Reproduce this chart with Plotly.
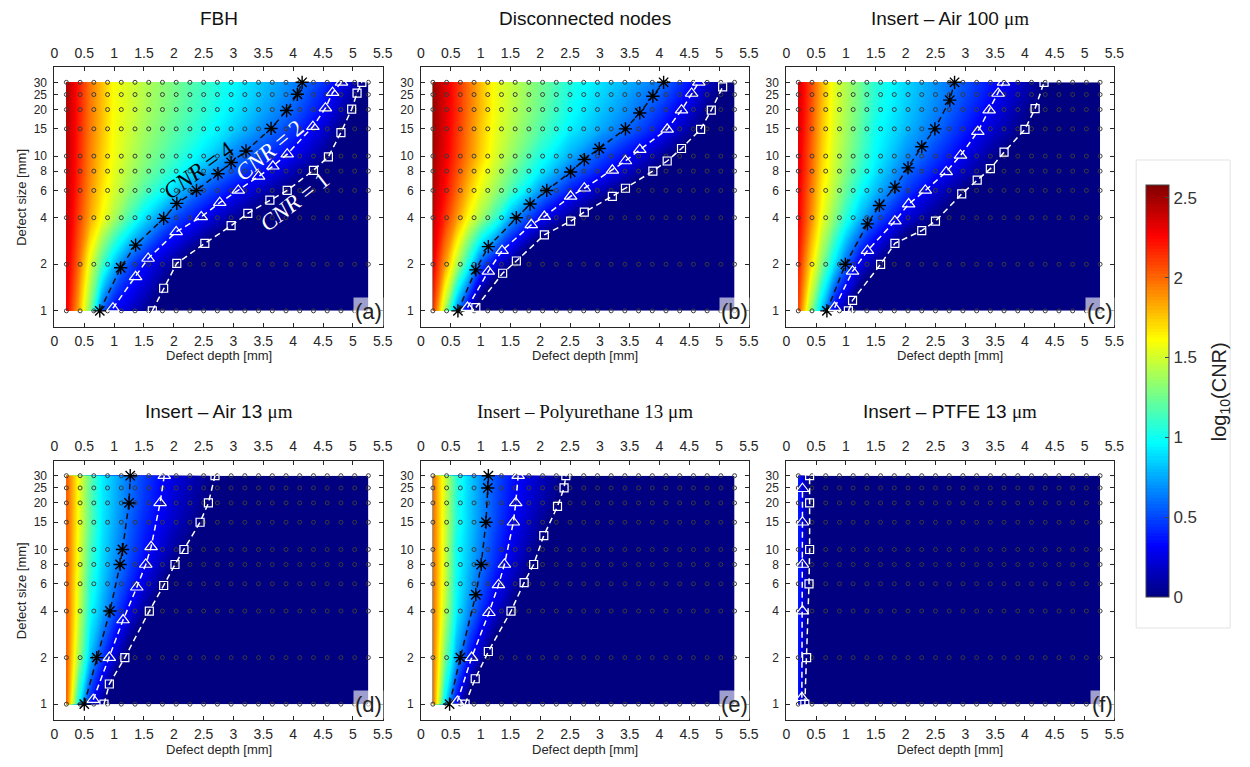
import math
import plotly.graph_objects as go

# ---------------- data ----------------
DEPTH_COLS = [0.2, 0.4, 0.6, 0.8, 1.0, 1.25, 1.5, 2.0, 2.5, 3.0, 3.5, 4.0, 4.5, 5.0, 5.26]
SIZE_ROWS = [1, 2, 4, 6, 8, 10, 15, 20, 25, 30]
DOT_DEPTHS = [0.2, 0.43, 0.66, 0.89, 1.12, 1.35, 1.58, 1.81, 2.04, 2.27, 2.5, 2.73,
              2.96, 3.19, 3.42, 3.65, 3.88, 4.11, 4.34, 4.57, 4.8, 5.03, 5.26]
X_TICKS = [0, 0.5, 1, 1.5, 2, 2.5, 3, 3.5, 4, 4.5, 5, 5.5]
X_TICKTEXT = ["0", "0.5", "1", "1.5", "2", "2.5", "3", "3.5", "4", "4.5", "5", "5.5"]
Y_TICKS = [1, 2, 4, 6, 8, 10, 15, 20, 25, 30]
CBAR_TICKS = [0, 0.5, 1, 1.5, 2, 2.5]

TITLES = ["FBH", "Disconnected nodes",
          "Insert \u2013 Air 100 <span style=\"font-family:Liberation Serif\">\u03bcm</span>",
          "Insert \u2013 Air 13 <span style=\"font-family:Liberation Serif\">\u03bcm</span>",
          "<span style=\"font-family:Liberation Serif\">Insert \u2013 Polyurethane 13 \u03bcm</span>",
          "Insert \u2013 PTFE 13 <span style=\"font-family:Liberation Serif\">\u03bcm</span>"]
LETTERS = ["(a)", "(b)", "(c)", "(d)", "(e)", "(f)"]

# log10(CNR) read per defect-size row (rows = SIZE_ROWS, cols = DEPTH_COLS)
Z_FBH = [
    [2.30, 1.85, 1.27, 0.57, 0.30, 0.19, 0.075, -0.15, -0.37, -0.5, -0.5, -0.5, -0.5, -0.5, -0.5],
    [2.35, 2.00, 1.54, 1.14, 0.81, 0.52, 0.34, 0.055, -0.22, -0.49, -0.5, -0.5, -0.5, -0.5, -0.5],
    [2.40, 2.11, 1.83, 1.60, 1.40, 1.15, 0.91, 0.53, 0.29, 0.08, -0.13, -0.34, -0.5, -0.5, -0.5],
    [2.42, 2.15, 1.89, 1.68, 1.51, 1.34, 1.18, 0.87, 0.56, 0.34, 0.15, -0.03, -0.21, -0.4, -0.5],
    [2.43, 2.17, 1.92, 1.72, 1.55, 1.41, 1.28, 1.05, 0.77, 0.53, 0.34, 0.14, -0.06, -0.26, -0.37],
    [2.44, 2.18, 1.93, 1.74, 1.58, 1.45, 1.33, 1.12, 0.90, 0.65, 0.46, 0.28, 0.06, -0.16, -0.27],
    [2.45, 2.19, 1.95, 1.77, 1.59, 1.49, 1.38, 1.20, 1.03, 0.85, 0.66, 0.46, 0.22, -0.10, -0.27],
    [2.46, 2.20, 1.96, 1.78, 1.60, 1.51, 1.41, 1.24, 1.08, 0.92, 0.75, 0.57, 0.34, 0.02, -0.16],
    [2.47, 2.20, 1.96, 1.78, 1.60, 1.51, 1.42, 1.26, 1.10, 0.95, 0.79, 0.63, 0.40, 0.09, -0.11],
    [2.48, 2.21, 1.97, 1.78, 1.60, 1.52, 1.43, 1.27, 1.12, 0.97, 0.81, 0.66, 0.46, 0.18, -0.06],
]
Z_DISC = [
    [2.15, 1.40, 0.67, 0.21, -0.21, -0.5, -0.5, -0.5, -0.5, -0.5, -0.5, -0.5, -0.5, -0.5, -0.5],
    [2.30, 1.88, 1.43, 1.00, 0.55, 0.26, 0.04, -0.39, -0.5, -0.5, -0.5, -0.5, -0.5, -0.5, -0.5],
    [2.40, 2.15, 1.88, 1.60, 1.38, 1.11, 0.76, 0.33, 0.055, -0.22, -0.49, -0.5, -0.5, -0.5, -0.5],
    [2.45, 2.24, 2.01, 1.77, 1.56, 1.36, 1.16, 0.71, 0.39, 0.16, -0.06, -0.27, -0.49, -0.5, -0.5],
    [2.47, 2.28, 2.07, 1.86, 1.65, 1.46, 1.28, 0.94, 0.61, 0.39, 0.17, -0.05, -0.27, -0.48, -0.5],
    [2.48, 2.31, 2.11, 1.92, 1.73, 1.52, 1.36, 1.04, 0.77, 0.52, 0.31, 0.09, -0.12, -0.34, -0.45],
    [2.50, 2.33, 2.14, 1.95, 1.76, 1.56, 1.43, 1.18, 0.94, 0.76, 0.57, 0.36, 0.10, -0.17, -0.31],
    [2.51, 2.34, 2.16, 1.97, 1.79, 1.58, 1.46, 1.23, 1.00, 0.83, 0.67, 0.47, 0.23, -0.08, -0.24],
    [2.52, 2.35, 2.16, 1.98, 1.79, 1.58, 1.47, 1.25, 1.03, 0.87, 0.72, 0.56, 0.31, 0.00, -0.17],
    [2.52, 2.35, 2.16, 1.98, 1.79, 1.58, 1.47, 1.26, 1.05, 0.90, 0.76, 0.62, 0.38, 0.07, -0.12],
]
Z_AIR100 = [
    [2.10, 1.38, 0.80, 0.29, 0.05, -0.25, -0.55, -0.6, -0.6, -0.6, -0.6, -0.6, -0.6, -0.6, -0.6],
    [2.20, 1.73, 1.30, 0.92, 0.58, 0.25, 0.06, -0.32, -0.5, -0.5, -0.5, -0.5, -0.5, -0.5, -0.5],
    [2.28, 1.94, 1.57, 1.32, 1.06, 0.78, 0.55, 0.24, 0.02, -0.20, -0.41, -0.5, -0.5, -0.5, -0.5],
    [2.30, 1.99, 1.65, 1.43, 1.22, 0.98, 0.80, 0.48, 0.22, 0.00, -0.22, -0.45, -0.5, -0.5, -0.5],
    [2.32, 2.03, 1.70, 1.48, 1.30, 1.09, 0.91, 0.60, 0.38, 0.17, -0.05, -0.27, -0.49, -0.5, -0.5],
    [2.33, 2.04, 1.73, 1.50, 1.34, 1.14, 0.96, 0.69, 0.47, 0.26, 0.04, -0.17, -0.39, -0.5, -0.5],
    [2.35, 2.07, 1.76, 1.53, 1.38, 1.19, 1.00, 0.80, 0.60, 0.39, 0.19, 0.00, -0.20, -0.39, -0.5],
    [2.36, 2.09, 1.78, 1.54, 1.40, 1.22, 1.04, 0.84, 0.66, 0.46, 0.26, 0.06, -0.13, -0.33, -0.44],
    [2.37, 2.10, 1.80, 1.55, 1.41, 1.23, 1.06, 0.86, 0.69, 0.51, 0.32, 0.11, -0.10, -0.32, -0.43],
    [2.37, 2.10, 1.80, 1.55, 1.41, 1.24, 1.07, 0.87, 0.70, 0.53, 0.35, 0.14, -0.08, -0.30, -0.42],
]
Z_AIR13 = [
    [2.05, 1.00, 0.37, 0.045, -0.26, -0.5, -0.5, -0.5, -0.5, -0.5, -0.5, -0.5, -0.5, -0.5, -0.5],
    [2.05, 1.40, 0.81, 0.47, 0.21, -0.08, -0.37, -0.5, -0.5, -0.5, -0.5, -0.5, -0.5, -0.5, -0.5],
    [2.05, 1.52, 1.00, 0.76, 0.53, 0.28, 0.07, -0.33, -0.5, -0.5, -0.5, -0.5, -0.5, -0.5, -0.5],
    [2.05, 1.55, 1.07, 0.83, 0.63, 0.43, 0.24, -0.11, -0.46, -0.5, -0.5, -0.5, -0.5, -0.5, -0.5],
    [2.05, 1.58, 1.12, 0.87, 0.69, 0.50, 0.32, 0.01, -0.29, -0.5, -0.5, -0.5, -0.5, -0.5, -0.5],
    [2.05, 1.58, 1.15, 0.89, 0.72, 0.53, 0.37, 0.09, -0.18, -0.44, -0.5, -0.5, -0.5, -0.5, -0.5],
    [2.05, 1.60, 1.20, 0.92, 0.76, 0.57, 0.42, 0.18, -0.02, -0.23, -0.43, -0.5, -0.5, -0.5, -0.5],
    [2.05, 1.60, 1.20, 0.93, 0.78, 0.60, 0.46, 0.21, 0.03, -0.16, -0.34, -0.5, -0.5, -0.5, -0.5],
    [2.05, 1.60, 1.20, 0.93, 0.79, 0.61, 0.47, 0.23, 0.05, -0.13, -0.31, -0.49, -0.5, -0.5, -0.5],
    [2.05, 1.60, 1.23, 0.94, 0.80, 0.61, 0.48, 0.24, 0.07, -0.11, -0.29, -0.46, -0.5, -0.5, -0.5],
]
Z_PU13 = [
    [2.00, 0.92, 0.30, -0.13, -0.5, -0.5, -0.5, -0.5, -0.5, -0.5, -0.5, -0.5, -0.5, -0.5, -0.5],
    [2.00, 1.28, 0.73, 0.38, 0.12, -0.18, -0.48, -0.5, -0.5, -0.5, -0.5, -0.5, -0.5, -0.5, -0.5],
    [2.00, 1.45, 0.94, 0.68, 0.45, 0.21, 0.01, -0.40, -0.5, -0.5, -0.5, -0.5, -0.5, -0.5, -0.5],
    [2.00, 1.49, 0.98, 0.76, 0.56, 0.34, 0.16, -0.20, -0.5, -0.5, -0.5, -0.5, -0.5, -0.5, -0.5],
    [2.00, 1.50, 1.00, 0.80, 0.61, 0.42, 0.24, -0.07, -0.37, -0.5, -0.5, -0.5, -0.5, -0.5, -0.5],
    [2.00, 1.50, 1.00, 0.82, 0.64, 0.45, 0.28, -0.01, -0.31, -0.5, -0.5, -0.5, -0.5, -0.5, -0.5],
    [2.00, 1.51, 1.05, 0.85, 0.68, 0.50, 0.33, 0.08, -0.18, -0.43, -0.5, -0.5, -0.5, -0.5, -0.5],
    [2.00, 1.51, 1.05, 0.85, 0.69, 0.51, 0.36, 0.13, -0.08, -0.29, -0.5, -0.5, -0.5, -0.5, -0.5],
    [2.00, 1.51, 1.07, 0.86, 0.70, 0.52, 0.37, 0.15, -0.04, -0.23, -0.42, -0.5, -0.5, -0.5, -0.5],
    [2.00, 1.51, 1.07, 0.86, 0.70, 0.53, 0.38, 0.16, -0.02, -0.21, -0.39, -0.5, -0.5, -0.5, -0.5],
]
Z_PTFE13 = [
    [0.42, -0.40, -0.5, -0.5, -0.5, -0.5, -0.5, -0.5, -0.5, -0.5, -0.5, -0.5, -0.5, -0.5, -0.5],
    [0.42, -0.20, -0.5, -0.5, -0.5, -0.5, -0.5, -0.5, -0.5, -0.5, -0.5, -0.5, -0.5, -0.5, -0.5],
    [0.42, -0.05, -0.5, -0.5, -0.5, -0.5, -0.5, -0.5, -0.5, -0.5, -0.5, -0.5, -0.5, -0.5, -0.5],
    [0.42, -0.03, -0.5, -0.5, -0.5, -0.5, -0.5, -0.5, -0.5, -0.5, -0.5, -0.5, -0.5, -0.5, -0.5],
    [0.42, -0.03, -0.5, -0.5, -0.5, -0.5, -0.5, -0.5, -0.5, -0.5, -0.5, -0.5, -0.5, -0.5, -0.5],
    [0.42, -0.03, -0.5, -0.5, -0.5, -0.5, -0.5, -0.5, -0.5, -0.5, -0.5, -0.5, -0.5, -0.5, -0.5],
    [0.42, -0.03, -0.5, -0.5, -0.5, -0.5, -0.5, -0.5, -0.5, -0.5, -0.5, -0.5, -0.5, -0.5, -0.5],
    [0.42, -0.03, -0.5, -0.5, -0.5, -0.5, -0.5, -0.5, -0.5, -0.5, -0.5, -0.5, -0.5, -0.5, -0.5],
    [0.42, -0.03, -0.5, -0.5, -0.5, -0.5, -0.5, -0.5, -0.5, -0.5, -0.5, -0.5, -0.5, -0.5, -0.5],
    [0.42, -0.03, -0.5, -0.5, -0.5, -0.5, -0.5, -0.5, -0.5, -0.5, -0.5, -0.5, -0.5, -0.5, -0.5],
]

# iso-CNR curves (depth, size)
FBH_CNR4_X = [0.76, 1.11, 1.36, 1.83, 2.05, 2.38, 2.74, 2.96, 3.21, 3.63, 3.89, 4.07, 4.15]
FBH_CNR4_Y = [1, 1.9, 2.66, 3.96, 4.95, 6.0, 7.7, 9.1, 10.8, 15.1, 19.7, 25.1, 30]
FBH_CNR2_X = [0.98, 1.36, 1.57, 2.04, 2.46, 2.77, 3.08, 3.42, 3.66, 3.9, 4.33, 4.54, 4.66, 4.81]
FBH_CNR2_Y = [1.04, 1.66, 2.18, 3.24, 4.05, 5.0, 6.0, 7.4, 8.6, 10.3, 15.5, 20.4, 25.7, 30]
FBH_CNR1_X = [1.64, 1.83, 2.05, 2.52, 2.96, 3.24, 3.61, 3.9, 4.34, 4.59, 4.8, 4.98, 5.07, 5.15]
FBH_CNR1_Y = [1, 1.4, 2.03, 2.73, 3.55, 4.27, 5.2, 6.0, 8.1, 9.9, 14.2, 20.1, 25.5, 30]

DISC_CNR4_X = [0.62, 0.92, 1.13, 1.6, 1.83, 2.11, 2.51, 2.74, 2.99, 3.43, 3.67, 3.89, 4.07]
DISC_CNR4_Y = [1, 1.84, 2.6, 4.0, 4.9, 6.0, 7.9, 9.5, 11.2, 15, 19, 24.4, 30]
DISC_CNR2_X = [0.78, 1.13, 1.36, 1.85, 2.07, 2.51, 2.74, 3.21, 3.43, 3.67, 4.13, 4.37, 4.54, 4.66]
DISC_CNR2_Y = [1.05, 1.8, 2.45, 3.6, 4.07, 5.5, 6.2, 8.1, 9.3, 11, 14.9, 19.8, 25.4, 30]
DISC_CNR1_X = [0.92, 1.37, 1.6, 2.07, 2.51, 2.74, 3.21, 3.43, 3.89, 4.13, 4.37, 4.69, 4.87, 5.06]
DISC_CNR1_Y = [1.05, 1.75, 2.1, 3.1, 3.8, 4.35, 5.5, 6.2, 8.0, 9.3, 11.2, 14.9, 19.8, 28]

AIR100_CNR4_X = [0.68, 0.99, 1.36, 1.56, 1.82, 2.04, 2.27, 2.49, 2.74, 2.82]
AIR100_CNR4_Y = [1, 2.0, 3.65, 4.8, 6.3, 8.4, 11.5, 15, 23, 30]
AIR100_CNR2_X = [0.81, 1.11, 1.36, 1.82, 2.05, 2.33, 2.68, 2.92, 3.21, 3.4, 3.55, 3.64]
AIR100_CNR2_Y = [1.05, 1.8, 2.45, 3.8, 4.9, 6.0, 7.9, 10.1, 14.4, 19.8, 25.4, 30]
AIR100_CNR1_X = [1.04, 1.11, 1.58, 1.82, 2.27, 2.5, 2.94, 3.2, 3.42, 3.65, 4.0, 4.17, 4.32]
AIR100_CNR1_Y = [1, 1.17, 2.0, 2.73, 3.3, 3.8, 5.7, 7.0, 8.3, 10.6, 14.9, 20.3, 30]

AIR13_CNR4_X = [0.5, 0.71, 0.93, 1.1, 1.14, 1.25, 1.27]
AIR13_CNR4_Y = [1, 2, 4, 8, 10, 20, 30]
AIR13_CNR2_X = [0.65, 0.92, 1.15, 1.38, 1.53, 1.62, 1.77, 1.84]
AIR13_CNR2_Y = [1.07, 2.0, 3.5, 5.7, 8, 10.4, 20, 30]
AIR13_CNR1_X = [0.83, 0.92, 1.18, 1.59, 1.83, 2.02, 2.17, 2.44, 2.58, 2.69]
AIR13_CNR1_Y = [1, 1.35, 2, 4, 5.85, 8, 10, 15, 20, 30]

PU13_CNR4_X = [0.48, 0.66, 0.92, 1.01, 1.09, 1.12, 1.13]
PU13_CNR4_Y = [1, 2, 5.1, 8, 15, 25, 30]
PU13_CNR2_X = [0.61, 0.85, 1.14, 1.30, 1.40, 1.55, 1.59, 1.63]
PU13_CNR2_Y = [1.04, 2, 3.9, 5.9, 8, 15, 20, 30]
PU13_CNR1_X = [0.74, 0.91, 1.13, 1.51, 1.73, 1.89, 2.06, 2.29, 2.40, 2.43]
PU13_CNR1_Y = [1, 1.46, 2.19, 4, 6.1, 8, 12.3, 19, 25, 30]

PTFE13_CNR4_X = []
PTFE13_CNR4_Y = []
PTFE13_CNR2_X = [0.26, 0.27, 0.27, 0.27, 0.27]
PTFE13_CNR2_Y = [1.1, 4, 8, 15, 24.7]
PTFE13_CNR1_X = [0.31, 0.34, 0.38, 0.39, 0.39, 0.39]
PTFE13_CNR1_Y = [1, 2, 6, 10, 20, 30]

# ---------------- styling / layout ----------------
W, H = 1250, 767
COL_X = [(51, 383), (421.7, 753.3), (791.2, 1123)]
ROW_Y = [(67.3, 326.7), (460.7, 720)]
ZMAX = 2.58
JET = [[0.0, "rgb(0,0,128)"], [0.125, "rgb(0,0,255)"], [0.375, "rgb(0,255,255)"],
       [0.625, "rgb(255,255,0)"], [0.875, "rgb(255,0,0)"], [1.0, "rgb(128,0,0)"]]
FONT = "Liberation Sans, Arial, sans-serif"
SERIF = "Liberation Serif, Times New Roman, serif"
AX_COLOR = "#262626"

panels = [
    (Z_FBH, (FBH_CNR4_X, FBH_CNR4_Y), (FBH_CNR2_X, FBH_CNR2_Y), (FBH_CNR1_X, FBH_CNR1_Y)),
    (Z_DISC, (DISC_CNR4_X, DISC_CNR4_Y), (DISC_CNR2_X, DISC_CNR2_Y), (DISC_CNR1_X, DISC_CNR1_Y)),
    (Z_AIR100, (AIR100_CNR4_X, AIR100_CNR4_Y), (AIR100_CNR2_X, AIR100_CNR2_Y), (AIR100_CNR1_X, AIR100_CNR1_Y)),
    (Z_AIR13, (AIR13_CNR4_X, AIR13_CNR4_Y), (AIR13_CNR2_X, AIR13_CNR2_Y), (AIR13_CNR1_X, AIR13_CNR1_Y)),
    (Z_PU13, (PU13_CNR4_X, PU13_CNR4_Y), (PU13_CNR2_X, PU13_CNR2_Y), (PU13_CNR1_X, PU13_CNR1_Y)),
    (Z_PTFE13, (PTFE13_CNR4_X, PTFE13_CNR4_Y), (PTFE13_CNR2_X, PTFE13_CNR2_Y), (PTFE13_CNR1_X, PTFE13_CNR1_Y)),
]

fig = go.Figure()
layout = dict(width=W, height=H, margin=dict(l=0, r=0, t=0, b=0),
              paper_bgcolor="white", plot_bgcolor="white", showlegend=False,
              font=dict(family=FONT, color=AX_COLOR, size=13))
annotations = []

dot_x = [d for s in SIZE_ROWS for d in DOT_DEPTHS]
dot_y = [s for s in SIZE_ROWS for d in DOT_DEPTHS]

for i, (z, c4, c2, c1) in enumerate(panels):
    n = i + 1
    r, c = divmod(i, 3)
    x0, x1 = COL_X[c]
    ytop, ybot = ROW_Y[r]
    xa, ya = f"x{n}", f"y{n}"
    xdom = [x0 / W, x1 / W]
    ydom = [1 - ybot / H, 1 - ytop / H]
    suffix = "" if n == 1 else str(n)

    fig.add_trace(go.Contour(
        x=DEPTH_COLS, y=SIZE_ROWS, z=z, xaxis=xa, yaxis=ya,
        colorscale=JET, zmin=0, zmax=ZMAX, zauto=False,
        contours=dict(start=0, end=ZMAX, size=0.02, coloring="fill", showlines=False),
        line=dict(width=0), hoverinfo="skip",
        showscale=(n == 3),
        colorbar=dict(x=1155 / W, xanchor="left", xpad=0, ypad=0,
                      y=1 - 391 / H, yanchor="middle", len=412 / H, lenmode="fraction",
                      thickness=23, outlinewidth=1, outlinecolor="#444",
                      tickvals=CBAR_TICKS, ticktext=["0", "0.5", "1", "1.5", "2", "2.5"],
                      ticks="inside", ticklen=4, tickcolor="#444",
                      tickfont=dict(size=17, color="#333", family=FONT)),
    ))
    fig.add_trace(go.Scatter(
        x=dot_x, y=dot_y, xaxis=xa, yaxis=ya, mode="markers", hoverinfo="skip",
        marker=dict(symbol="circle-open", size=4, color="#3c3c3c", line=dict(width=1, color="#3c3c3c")),
    ))
    # iso-CNR curves
    if c4[0]:
        fig.add_trace(go.Scatter(
            x=c4[0], y=c4[1], xaxis=xa, yaxis=ya, mode="lines+markers", hoverinfo="skip",
            line=dict(color="#111", width=1.5, dash="6px,4px"),
            marker=dict(symbol="asterisk-open", size=11, color="#000", line=dict(width=1.4, color="#000")),
        ))
    fig.add_trace(go.Scatter(
        x=c2[0], y=c2[1], xaxis=xa, yaxis=ya, mode="lines+markers", hoverinfo="skip",
        line=dict(color="white", width=1.5, dash="6px,4px"),
        marker=dict(symbol="triangle-up-open", size=11, color="white", line=dict(width=1.2, color="white")),
    ))
    fig.add_trace(go.Scatter(
        x=c1[0], y=c1[1], xaxis=xa, yaxis=ya, mode="lines+markers", hoverinfo="skip",
        line=dict(color="white", width=1.5, dash="6px,4px"),
        marker=dict(symbol="square-open", size=8, color="white", line=dict(width=1.2, color="white")),
    ))
    # invisible trace so the mirrored top axis is drawn
    fig.add_trace(go.Scatter(x=[0], y=[1], xaxis=f"x{n + 6}", yaxis=ya, mode="markers",
                             marker=dict(opacity=0), hoverinfo="skip"))

    layout[f"xaxis{suffix}"] = dict(
        domain=xdom, anchor=ya, range=[0, 5.5], tickvals=X_TICKS, ticktext=X_TICKTEXT,
        ticks="inside", ticklen=4, tickcolor=AX_COLOR, mirror="ticks", showline=True,
        linecolor=AX_COLOR, linewidth=1, showgrid=False, zeroline=False,
        tickfont=dict(size=14, color=AX_COLOR), ticklabelstandoff=1)
    layout[f"xaxis{n + 6}"] = dict(
        overlaying=xa, anchor=ya, side="top", range=[0, 5.5], tickvals=X_TICKS,
        ticktext=X_TICKTEXT, ticks="", showline=False, showgrid=False, zeroline=False,
        tickfont=dict(size=14, color=AX_COLOR), ticklabelstandoff=6)
    layout[f"yaxis{suffix}"] = dict(
        domain=ydom, anchor=xa, type="log", range=[math.log10(0.79), math.log10(37.5)],
        tickvals=Y_TICKS, ticktext=[str(v) for v in Y_TICKS],
        ticks="inside", ticklen=4, tickcolor=AX_COLOR, mirror="ticks", showline=True,
        linecolor=AX_COLOR, linewidth=1, showgrid=False, zeroline=False,
        tickfont=dict(size=12, color=AX_COLOR), ticklabelstandoff=4)

    cx = (x0 + x1) / 2
    # panel title
    annotations.append(dict(text=TITLES[i], xref="paper", yref="paper", x=cx / W,
                            y=1 - (ytop - 49) / H, xanchor="center", yanchor="middle",
                            showarrow=False, font=dict(size=19, color="#111")))
    # x axis title
    annotations.append(dict(text="Defect depth [mm]", xref="paper", yref="paper", x=cx / W,
                            y=1 - (ybot + 29) / H, xanchor="center", yanchor="middle",
                            showarrow=False, font=dict(size=13, color=AX_COLOR)))
    # panel letter
    annotations.append(dict(text=LETTERS[i], xref="paper", yref="paper", x=(x1 + 1) / W,
                            y=1 - (ybot - 15.5) / H, xanchor="right", yanchor="middle",
                            showarrow=False, font=dict(size=22, color="#222"),
                            bgcolor="rgba(255,255,255,0.62)", borderpad=1))
    if c == 0:
        annotations.append(dict(text="Defect size [mm]", xref="paper", yref="paper",
                                x=18 / W, y=1 - ((ytop + ybot) / 2) / H, textangle=-90,
                                xanchor="center", yanchor="middle", showarrow=False,
                                font=dict(size=13, color=AX_COLOR)))

# colorbar title
annotations.append(dict(text="log<sub>10</sub>(CNR)", xref="paper", yref="paper",
                        x=1230 / W, y=1 - 392 / H, textangle=-90, xanchor="center",
                        yanchor="middle", showarrow=False, font=dict(size=20, color="#222")))

# CNR labels in panel (a)
annotations.append(dict(text="<i>CNR</i> = 4", xref="x", yref="y", x=2.41, y=math.log10(8.1),
                        textangle=-36, showarrow=False, font=dict(size=23, color="black", family=SERIF)))
annotations.append(dict(text="<i>CNR</i> = 2", xref="x", yref="y", x=3.6, y=math.log10(10.9),
                        textangle=-40, showarrow=False, font=dict(size=23, color="white", family=SERIF)))
annotations.append(dict(text="<i>CNR</i> = 1", xref="x", yref="y", x=4.03, y=math.log10(5.1),
                        textangle=-38, showarrow=False, font=dict(size=23, color="white", family=SERIF)))

layout["annotations"] = annotations
layout["shapes"] = [dict(type="rect", xref="paper", yref="paper", x0=1145 / W, x1=1240 / W,
                         y0=1 - 628 / H, y1=1 - 160 / H, line=dict(color="#e3e3e3", width=1),
                         fillcolor="rgba(0,0,0,0)")]
fig.update_layout(**layout)
fig.write_html("out.html")
